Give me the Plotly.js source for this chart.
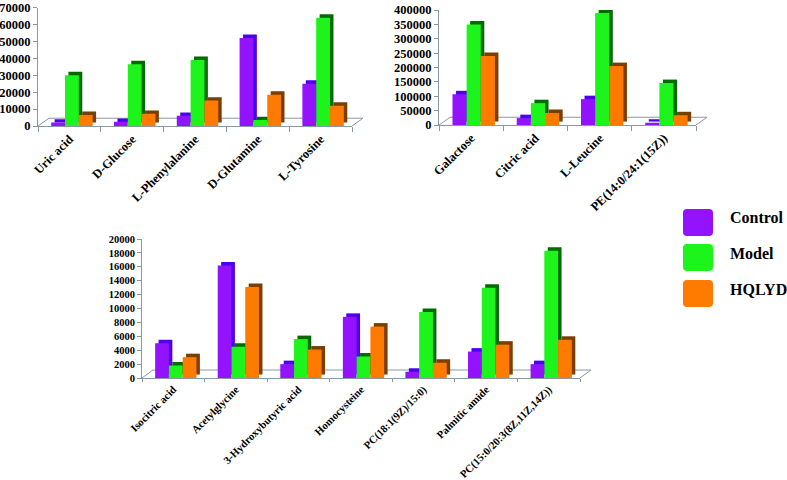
<!DOCTYPE html>
<html>
<head>
<meta charset="utf-8">
<script src="https://cdn.plot.ly/plotly-3.0.1.min.js"></script>
<style>html,body{margin:0;padding:0;background:#fff}#chart{width:787px;height:480px}</style>
</head>
<body>
<div id="chart"></div>
<script>
// ---- data ----
const seriesNames = ['Control', 'Model', 'HQLYD'];

const categories1 = ['Uric acid', 'D-Glucose', 'L-Phenylalanine', 'D-Glutamine', 'L-Tyrosine'];
const control1 = [2000, 2500, 6000, 52000, 25000];
const model1   = [30000, 36500, 39000, 3500, 64000];
const hqlyd1   = [6500, 7200, 15000, 18500, 12000];

const categories2 = ['Galactose', 'Citric acid', 'L-Leucine', 'PE(14:0/24:1(15Z))'];
const control2 = [107000, 24000, 90000, 8000];
const model2   = [350000, 76000, 390000, 146000];
const hqlyd2   = [240000, 42000, 205000, 34000];

const categories3 = ['Isocitric acid', 'Acetylglycine', '3-Hydroxybutyric acid', 'Homocysteine',
                     'PC(18:1(9Z)/15:0)', 'Palmitic amide', 'PC(15:0/20:3(8Z,11Z,14Z))'];
const control3 = [5000, 16200, 2000, 8800, 900, 3800, 2000];
const model3   = [1800, 4500, 5600, 3100, 9500, 13000, 18300];
const hqlyd3   = [3000, 13100, 4100, 7400, 2200, 4800, 5500];

const yTicks1 = [0, 10000, 20000, 30000, 40000, 50000, 60000, 70000];
const yTicks2 = [0, 50000, 100000, 150000, 200000, 250000, 300000, 350000, 400000];
const yTicks3 = [0, 2000, 4000, 6000, 8000, 10000, 12000, 14000, 16000, 18000, 20000];

// ---- styles ----
const frontColors = ['#9313ff', '#1cf41c', '#ff7b00'];
const sideColors  = ['#4d00ee', '#006b00', '#7a3e00'];
const barOffsets = [-0.29, -0.07, 0.15];
const barWidth = 0.22;
const sideShift = 0.055;
const axisGray = '#8a98a4';
const serif = 'Liberation Serif, Times New Roman, serif';

const charts = [
  {cats: categories1, vals: [control1, model1, hqlyd1], xa: 'x',  ya: 'y',  depth: 2000,  floor: 4600,  fdx: 0.035},
  {cats: categories2, vals: [control2, model2, hqlyd2], xa: 'x2', ya: 'y2', depth: 12000, floor: 27000, fdx: 0.043},
  {cats: categories3, vals: [control3, model3, hqlyd3], xa: 'x3', ya: 'y3', depth: 500,   floor: 1150,  fdx: 0.025}
];

const traces = [];
const shapes = [];
charts.forEach((c) => {
  c.vals.forEach((v, s) => {
    traces.push({
      type: 'bar', x: c.cats, y: v, base: c.depth,
      xaxis: c.xa, yaxis: c.ya,
      offset: barOffsets[s] + sideShift, width: barWidth,
      marker: {color: sideColors[s], line: {width: 0}},
      showlegend: false, hoverinfo: 'skip'
    });
    traces.push({
      type: 'bar', x: c.cats, y: v,
      xaxis: c.xa, yaxis: c.ya, name: seriesNames[s],
      offset: barOffsets[s], width: barWidth,
      marker: {color: frontColors[s], line: {width: 0}},
      showlegend: false
    });
  });
  const xd = c.xa + ' domain';
  const lineStyle = {color: axisGray, width: 1};
  shapes.push({type: 'line', xref: xd, yref: c.ya, x0: c.fdx, x1: 1 + c.fdx, y0: c.floor, y1: c.floor, line: lineStyle, layer: 'below'});
  shapes.push({type: 'line', xref: xd, yref: c.ya, x0: 0, x1: c.fdx, y0: 0, y1: c.floor, line: lineStyle, layer: 'below'});
  shapes.push({type: 'line', xref: xd, yref: c.ya, x0: 1, x1: 1 + c.fdx, y0: 0, y1: c.floor, line: lineStyle, layer: 'below'});
});

// legend drawn as rounded squares + labels
const W = 787, H = 480;
const annotations = [];
const legTop = [209, 244, 280];
seriesNames.forEach((n, i) => {
  const x0 = 683 / W, x1 = 713 / W;
  const yt = 1 - legTop[i] / H, yb = 1 - (legTop[i] + 27) / H;
  const rx = 4 / W, ry = 4 / H;
  const p = `M ${x0 + rx} ${yt} L ${x1 - rx} ${yt} Q ${x1} ${yt} ${x1} ${yt - ry} L ${x1} ${yb + ry} Q ${x1} ${yb} ${x1 - rx} ${yb} ` +
            `L ${x0 + rx} ${yb} Q ${x0} ${yb} ${x0} ${yb + ry} L ${x0} ${yt - ry} Q ${x0} ${yt} ${x0 + rx} ${yt} Z`;
  shapes.push({type: 'path', xref: 'paper', yref: 'paper', path: p, fillcolor: frontColors[i], line: {width: 0}});
  annotations.push({
    text: n, xref: 'paper', yref: 'paper', x: 728 / W, y: 1 - (legTop[i] + 9) / H,
    xanchor: 'left', yanchor: 'middle', showarrow: false,
    font: {family: serif, size: 16, color: '#000', weight: 'bold'}
  });
});

function xAxis(domain, anchor, size, tl) {
  return {
    domain: domain, anchor: anchor, type: 'category',
    showline: true, linecolor: axisGray, linewidth: 1,
    ticks: 'outside', tickson: 'boundaries', ticklen: tl, tickcolor: axisGray,
    tickangle: -45, ticklabeloverflow: 'allow',
    tickfont: {family: serif, size: size, color: '#000', weight: 'bold'},
    showgrid: false, zeroline: false, fixedrange: true
  };
}
function yAxis(domain, anchor, ticks, size) {
  return {
    domain: domain, anchor: anchor, range: [0, ticks[ticks.length - 1]],
    tickvals: ticks, ticktext: ticks.map(String),
    showline: true, linecolor: axisGray, linewidth: 1,
    ticks: 'outside', ticklen: 4, tickcolor: axisGray, ticklabeloverflow: 'allow',
    tickfont: {family: serif, size: size, color: '#000', weight: 'bold'},
    showgrid: false, zeroline: false, fixedrange: true
  };
}

const layout = {
  width: W, height: H, autosize: false,
  margin: {l: 0, r: 0, t: 0, b: 0},
  paper_bgcolor: '#fff', plot_bgcolor: 'rgba(0,0,0,0)',
  barmode: 'overlay', showlegend: false,
  xaxis:  xAxis([38 / W, 352 / W], 'y', 12.5, 5),
  yaxis:  yAxis([1 - 126 / H, 1 - 7.5 / H], 'x', yTicks1, 12.5),
  xaxis2: xAxis([439 / W, 696 / W], 'y2', 12.5, 5),
  yaxis2: yAxis([1 - 125 / H, 1 - 10 / H], 'x2', yTicks2, 12.5),
  xaxis3: xAxis([142 / W, 580 / W], 'y3', 10.8, 3),
  yaxis3: yAxis([1 - 378 / H, 1 - 239 / H], 'x3', yTicks3, 10.5),
  shapes: shapes, annotations: annotations
};

Plotly.newPlot('chart', traces, layout, {staticPlot: true, displayModeBar: false});
</script>
</body>
</html>
